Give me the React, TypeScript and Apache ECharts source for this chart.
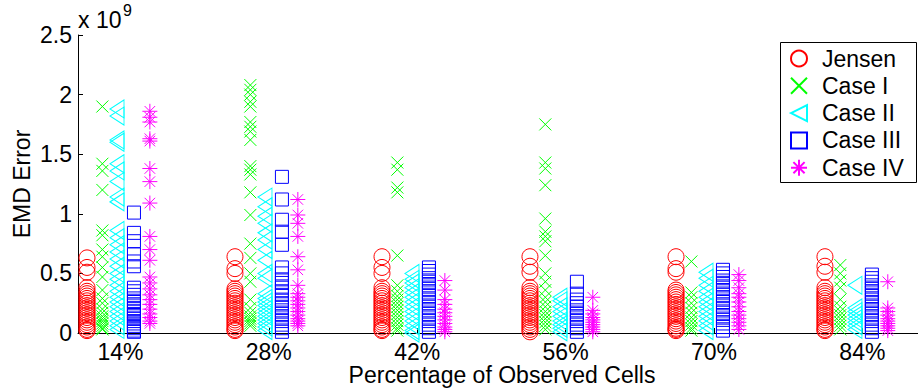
import React, { useEffect, useRef } from "react";
import * as echarts from "echarts";

const GROUP_LABELS = ["14%", "28%", "42%", "56%", "70%", "84%"];
const GROUP_TICKS = [14, 28, 42, 56, 70, 84];
// cluster centre of each group on the percentage axis
const GROUP_POS = [13.68, 27.64, 41.51, 55.47, 69.25, 83.3];

const SERIES_NAMES = ["Jensen", "Case I", "Case II", "Case III", "Case IV"];

// values in units of 10^9
const JENSEN = [
  [0.63, 0.55, 0.51, 0.38, 0.35, 0.33, 0.31, 0.29, 0.27, 0.25, 0.23, 0.21, 0.19, 0.17, 0.15, 0.13, 0.11, 0.09, 0.07, 0.05, 0.03, 0.02],
  [0.64, 0.54, 0.5, 0.37, 0.35, 0.33, 0.31, 0.29, 0.27, 0.25, 0.23, 0.21, 0.19, 0.17, 0.15, 0.13, 0.11, 0.09, 0.07, 0.05, 0.03, 0.02],
  [0.64, 0.55, 0.5, 0.38, 0.35, 0.33, 0.31, 0.29, 0.27, 0.25, 0.23, 0.21, 0.19, 0.17, 0.15, 0.13, 0.11, 0.09, 0.07, 0.05, 0.03, 0.02],
  [0.64, 0.56, 0.51, 0.38, 0.35, 0.33, 0.31, 0.29, 0.27, 0.25, 0.23, 0.21, 0.19, 0.17, 0.15, 0.13, 0.11, 0.09, 0.07, 0.05, 0.03, 0.01],
  [0.64, 0.54, 0.51, 0.36, 0.34, 0.32, 0.3, 0.28, 0.26, 0.24, 0.22, 0.2, 0.18, 0.16, 0.14, 0.12, 0.1, 0.08, 0.06, 0.04, 0.03, 0.02],
  [0.64, 0.56, 0.51, 0.38, 0.35, 0.33, 0.31, 0.29, 0.27, 0.25, 0.23, 0.21, 0.19, 0.17, 0.15, 0.13, 0.11, 0.09, 0.07, 0.05, 0.03, 0.02],
];
const CASE_I = [
  [1.9, 1.42, 1.36, 1.2, 0.86, 0.82, 0.7, 0.64, 0.55, 0.47, 0.36, 0.29, 0.25, 0.2, 0.17, 0.14, 0.12, 0.1, 0.08, 0.06, 0.04, 0.03],
  [2.08, 2.04, 2.0, 1.94, 1.9, 1.77, 1.73, 1.69, 1.62, 1.4, 1.37, 1.33, 1.18, 0.99, 0.75, 0.63, 0.5, 0.43, 0.28, 0.21, 0.17, 0.14, 0.12, 0.1, 0.08, 0.06],
  [1.43, 1.37, 1.22, 1.18, 0.65, 0.4, 0.35, 0.31, 0.28, 0.25, 0.22, 0.19, 0.16, 0.13, 0.1, 0.07, 0.04, 0.02],
  [1.75, 1.43, 1.38, 1.24, 0.96, 0.85, 0.81, 0.77, 0.65, 0.5, 0.43, 0.36, 0.3, 0.26, 0.22, 0.18, 0.15, 0.12, 0.09, 0.06, 0.03],
  [0.6, 0.34, 0.3, 0.25, 0.21, 0.17, 0.13, 0.1, 0.07, 0.04, 0.02],
  [0.57, 0.5, 0.44, 0.38, 0.28, 0.22, 0.18, 0.15, 0.12, 0.09, 0.06, 0.03],
];
const CASE_II = [
  [1.88, 1.82, 1.62, 1.6, 1.42, 1.36, 1.27, 1.14, 1.1, 0.86, 0.8, 0.74, 0.68, 0.62, 0.56, 0.5, 0.45, 0.4, 0.35, 0.3, 0.26, 0.22, 0.18, 0.14, 0.1, 0.06, 0.03],
  [1.14, 1.06, 0.98, 0.92, 0.84, 0.78, 0.7, 0.61, 0.5, 0.46, 0.33, 0.29, 0.26, 0.23, 0.2, 0.17, 0.14, 0.11, 0.08, 0.05, 0.02],
  [0.5, 0.45, 0.42, 0.38, 0.34, 0.3, 0.26, 0.22, 0.18, 0.14, 0.1, 0.06, 0.02, 0.0],
  [0.3, 0.27, 0.22, 0.18, 0.14, 0.1, 0.07, 0.04, 0.01],
  [0.51, 0.46, 0.4, 0.35, 0.3, 0.26, 0.22, 0.18, 0.14, 0.1, 0.06, 0.02],
  [0.4, 0.21, 0.18, 0.15, 0.12, 0.09, 0.06, 0.03],
];
const CASE_III = [
  [1.01, 0.84, 0.77, 0.66, 0.6, 0.56, 0.38, 0.35, 0.32, 0.29, 0.26, 0.23, 0.2, 0.18, 0.16, 0.14, 0.12, 0.1, 0.08, 0.06, 0.04, 0.02, 0.01],
  [1.31, 1.12, 0.95, 0.85, 0.74, 0.55, 0.5, 0.45, 0.42, 0.38, 0.35, 0.32, 0.28, 0.25, 0.22, 0.19, 0.16, 0.13, 0.1, 0.07, 0.04, 0.01],
  [0.55, 0.52, 0.49, 0.46, 0.43, 0.4, 0.37, 0.34, 0.31, 0.28, 0.25, 0.22, 0.19, 0.16, 0.13, 0.1, 0.07, 0.04, 0.01],
  [0.43, 0.33, 0.28, 0.25, 0.22, 0.19, 0.16, 0.13, 0.1, 0.07, 0.04, 0.01],
  [0.53, 0.5, 0.47, 0.44, 0.41, 0.38, 0.35, 0.32, 0.29, 0.26, 0.23, 0.2, 0.17, 0.14, 0.11, 0.08, 0.05, 0.02],
  [0.49, 0.46, 0.43, 0.4, 0.37, 0.34, 0.31, 0.28, 0.25, 0.22, 0.19, 0.16, 0.13, 0.1, 0.07, 0.04, 0.01],
];
const CASE_IV = [
  [1.86, 1.81, 1.77, 1.63, 1.61, 1.38, 1.27, 1.09, 0.81, 0.7, 0.61, 0.47, 0.42, 0.37, 0.32, 0.28, 0.24, 0.2, 0.16, 0.13, 0.1, 0.08],
  [1.12, 0.99, 0.92, 0.81, 0.64, 0.53, 0.4, 0.33, 0.3, 0.27, 0.24, 0.21, 0.18, 0.15, 0.12, 0.1, 0.08, 0.06],
  [0.44, 0.36, 0.28, 0.24, 0.2, 0.17, 0.14, 0.11, 0.08, 0.05, 0.03, 0.01],
  [0.3, 0.19, 0.16, 0.13, 0.11, 0.09, 0.07, 0.05, 0.03, 0.01],
  [0.49, 0.44, 0.38, 0.33, 0.3, 0.26, 0.22, 0.18, 0.15, 0.12, 0.09, 0.06, 0.03],
  [0.43, 0.21, 0.18, 0.15, 0.12, 0.1, 0.08, 0.06, 0.04, 0.02],
];

const SERIES_VALUES = [JENSEN, CASE_I, CASE_II, CASE_III, CASE_IV];
const SERIES_OFFSET = [-2.83, -1.38, 0, 1.6, 3.1];
const SERIES_COLORS = ["#ff0000", "#00ff00", "#00ffff", "#0000ff", "#ff00ff"];
const SERIES_SYMBOLS = [
  "circle",
  "path://M0,0L10,10M10,0L0,10",
  "path://M0,5L10,0L10,10Z",
  "path://M0,0L10,0L10,10L0,10Z",
  "path://M5,0L5,10M0,5L10,5M1.5,1.5L8.5,8.5M8.5,1.5L1.5,8.5",
];
const SERIES_SIZES: any[] = [16, 12, [14, 18], 13, 15];

const FONT = "'Liberation Sans', Arial, Helvetica, sans-serif";
const FS = 23;

export default function App() {
  const ref = useRef<HTMLDivElement>(null);
  useEffect(() => {
    document.body.style.margin = "0";
    if (!ref.current) return;
    const chart = echarts.init(ref.current, null, { renderer: "svg" });
    const series = SERIES_NAMES.map((name, si) => {
      const data: number[][] = [];
      SERIES_VALUES[si].forEach((vals, gi) => {
        vals.forEach((v) => data.push([GROUP_POS[gi] + SERIES_OFFSET[si], v]));
      });
      return {
        name,
        type: "scatter",
        data,
        symbol: SERIES_SYMBOLS[si],
        symbolSize: SERIES_SIZES[si],
        clip: false,
        itemStyle: {
          color: "rgba(0,0,0,0)",
          borderColor: SERIES_COLORS[si],
          borderWidth: 1,
          opacity: 1,
        },
        emphasis: { disabled: true },
      };
    });
    chart.setOption({
      animation: false,
      backgroundColor: "#fff",
      textStyle: { fontFamily: FONT },
      grid: { left: 78, right: 0, top: 35, bottom: 57, containLabel: false },
      xAxis: {
        type: "value",
        min: 10,
        max: 89.25,
        axisLine: { show: true, lineStyle: { color: "#000", width: 1 } },
        axisTick: {
          show: true,
          inside: true,
          length: 5,
          customValues: GROUP_TICKS,
          lineStyle: { color: "#000" },
        },
        axisLabel: {
          customValues: GROUP_TICKS,
          formatter: (v: number) => GROUP_LABELS[GROUP_TICKS.indexOf(v)] ?? "",
          fontSize: FS,
          color: "#000",
          fontFamily: FONT,
          margin: 7,
        },
        splitLine: { show: false },
      },
      yAxis: {
        type: "value",
        min: 0,
        max: 2.5,
        interval: 0.5,
        axisLine: { show: true, lineStyle: { color: "#000", width: 1 } },
        axisTick: { show: true, inside: true, length: 5, lineStyle: { color: "#000" } },
        axisLabel: { fontSize: FS, color: "#000", fontFamily: FONT, margin: 6 },
        splitLine: { show: false },
      },
      legend: {
        orient: "vertical",
        left: 780,
        top: 42,
        padding: [5, 3, 4, 10],
        itemGap: 4.3,
        itemWidth: 36,
        itemHeight: 16,
        borderWidth: 0,
        backgroundColor: "transparent",
        textStyle: {
          fontSize: FS,
          color: "#000",
          fontFamily: FONT,
          lineHeight: 23,
        },
        data: SERIES_NAMES,
      },
      graphic: [
        {
          type: "rect",
          z: 3,
          shape: { x: 780.5, y: 42.5, width: 136, height: 140 },
          style: { fill: "#fff", stroke: "#000", lineWidth: 1 },
        },
        {
          type: "text",
          left: 78,
          top: 8,
          style: { text: "x 10", font: `${FS}px ${FONT}`, fill: "#000" },
        },
        {
          type: "text",
          left: 123,
          top: 2,
          style: { text: "9", font: `16px ${FONT}`, fill: "#000" },
        },
        {
          type: "text",
          x: 502,
          y: 375,
          style: {
            text: "Percentage of Observed Cells",
            font: `${FS}px ${FONT}`,
            fill: "#000",
            align: "center",
            verticalAlign: "middle",
          },
        },
        {
          type: "text",
          x: 22,
          y: 184,
          rotation: Math.PI / 2,
          style: {
            text: "EMD Error",
            font: `${FS}px ${FONT}`,
            fill: "#000",
            align: "center",
            verticalAlign: "middle",
          },
        },
      ],
      series,
    });
    return () => chart.dispose();
  }, []);
  return <div ref={ref} style={{ width: 918, height: 390 }} />;
}
